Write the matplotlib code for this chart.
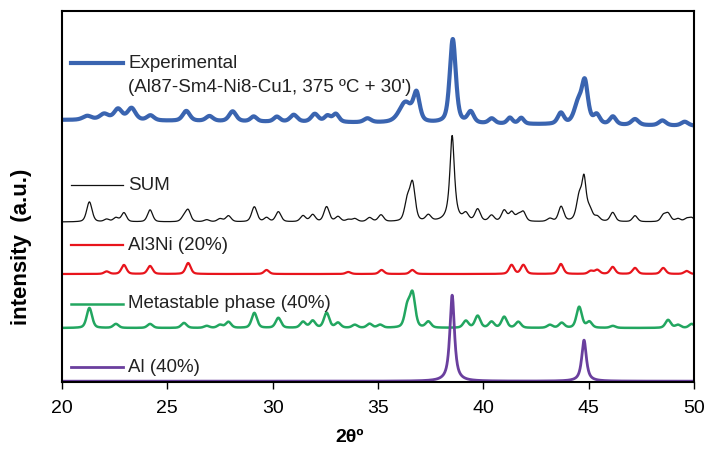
import numpy as np
import matplotlib
matplotlib.use("Agg")
import matplotlib.pyplot as plt

plt.rcParams['font.family'] = ['Liberation Sans', 'DejaVu Sans']

# ---------------- data (peak positions [deg], heights [a.u.], widths [deg]) -------------
al_pos = [38.52, 44.78]
al_h = [86, 41]
al_w = [0.26, 0.26]

meta_pos = [21.30, 22.56, 24.18, 25.79, 26.87, 27.50, 27.90, 29.13, 30.27, 31.44, 31.90,
            32.56, 33.10, 33.90, 34.60, 35.10, 36.39, 36.64, 37.39, 39.17, 39.73, 40.39,
            40.99, 41.66, 43.16, 43.72, 44.55, 45.03, 46.15, 48.77, 49.24, 49.89]
meta_h = [20, 4, 4, 5, 2, 3, 6, 15, 10, 6, 7,
          15, 5, 3, 4, 3, 20, 33, 6, 7, 12, 6,
          11, 6, 3, 5, 21, 6, 2, 8, 3, 4]
meta_w = 0.3

al3ni_pos = [22.12, 22.94, 24.18, 25.99, 29.71, 33.59, 35.17, 36.63, 41.34, 41.90,
             43.68, 45.10, 45.41, 46.14, 47.20, 48.54, 49.65]
al3ni_h = [2.5, 9, 8, 11, 4, 2, 4, 4, 9, 9,
           10, 3, 4, 7, 6, 6, 3]
al3ni_w = 0.28

exp_pos = [21.2, 22.0, 22.66, 23.3, 24.2, 25.9, 27.0, 28.1, 29.1, 30.2, 31.0, 32.0, 32.6,
           33.0, 34.5, 36.30, 36.83, 38.55, 39.40, 40.4, 41.26, 41.80, 43.68, 44.50,
           44.82, 45.38, 46.15, 47.20, 48.50, 49.56]
exp_h = [4, 6, 11, 12, 5, 10, 5, 10, 5, 5, 7, 8, 6,
         8, 4, 20, 27, 84, 11, 5, 6, 6, 11, 20,
         40, 9, 8, 6, 5, 4]
exp_w = [0.5, 0.5, 0.45, 0.45, 0.4, 0.4, 0.4, 0.4, 0.35, 0.35, 0.4, 0.4, 0.35,
         0.35, 0.4, 0.7, 0.35, 0.34, 0.35, 0.35, 0.3, 0.3, 0.35, 0.45,
         0.35, 0.35, 0.35, 0.4, 0.4, 0.4]
exp_base = [262, 256]   # baseline level at 20 and 50 deg

# vertical offsets of the stacked patterns
off_al, off_meta, off_al3ni, off_sum = 0.8, 54, 108, 160

labels = ["Experimental", "(Al87-Sm4-Ni8-Cu1, 375 ºC + 30')", "SUM", "Al3Ni (20%)",
          "Metastable phase (40%)", "Al (40%)"]
xticks = [20, 25, 30, 35, 40, 45, 50]

# ---------------- build profiles ----------------
x = np.linspace(20, 50, 3001)


def profile(pos, h, w, eta=0.5):
    y = np.zeros_like(x)
    w = np.broadcast_to(w, (len(pos),))
    for p, a, ww in zip(pos, h, w):
        hw = ww / 2
        lor = 1 / (1 + ((x - p) / hw) ** 2)
        gau = np.exp(-np.log(2) * ((x - p) / hw) ** 2)
        y += a * (eta * lor + (1 - eta) * gau)
    return y


y_al = profile(al_pos, al_h, al_w, eta=0.85)
y_meta = profile(meta_pos, meta_h, meta_w, eta=0.4)
y_al3ni = profile(al3ni_pos, al3ni_h, al3ni_w, eta=0.4)
y_sum = y_al + y_meta + y_al3ni
y_exp = profile(exp_pos, exp_h, exp_w, eta=0.5) + exp_base[0] + (exp_base[1] - exp_base[0]) * (x - 20) / 30

# ---------------- plot ----------------
fig = plt.figure(figsize=(7.07, 4.51), dpi=100)
ax = fig.add_axes([62 / 707, 1 - 382 / 451, 632 / 707, 371 / 451])

c_exp, c_sum, c_red, c_green, c_purple = "#3a64b0", "#111111", "#e8141c", "#22a660", "#6a3f9e"

ax.plot(x, y_exp, color=c_exp, lw=3.0, solid_joinstyle='round')
ax.plot(x, y_sum + off_sum, color=c_sum, lw=0.9)
ax.plot(x, y_al3ni + off_al3ni, color=c_red, lw=1.6)
ax.plot(x, y_meta + off_meta, color=c_green, lw=1.8)
ax.plot(x, y_al + off_al, color=c_purple, lw=2.0)

ax.set_xlim(20, 50)
ax.set_ylim(0, 371)
ax.set_yticks([])
ax.set_xticks(xticks)
ax.tick_params(axis='x', direction='out', length=5, width=1, labelsize=14, pad=8)
for s in ax.spines.values():
    s.set_linewidth(1.5)

# inline legend: short line + label
def px_to_data(px, py):
    return 20 + (px - 62) / 632 * 30, (382 - py)


leg = [(63, c_exp, 3.0, labels[0]), (185, c_sum, 0.9, labels[2]), (245, c_red, 1.6, labels[3]),
       (304, c_green, 1.8, labels[4]), (367, c_purple, 2.0, labels[5])]
for py, col, lw, lab in leg:
    x0, y0 = px_to_data(71, py)
    x1, _ = px_to_data(123, py)
    ax.plot([x0, x1], [y0, y0], color=col, lw=lw)
    xt, _ = px_to_data(128, py)
    ax.text(xt, y0, lab, fontsize=13.5, va='center', ha='left', color='#222222')
xt, yt = px_to_data(128, 88)
ax.text(xt, yt, labels[1], fontsize=13.5, va='center', ha='left', color='#222222')

ax.set_xlabel("2θº", fontsize=14, fontweight='bold')
ax.xaxis.set_label_coords((350 - 62) / 632, -(429 - 382) / 371)
ax.set_ylabel("intensity  (a.u.)", fontsize=16, fontweight='bold')
ax.yaxis.set_label_coords(-(62 - 32) / 632, (382 - 247) / 371)

fig.savefig("out.png", dpi=100)
